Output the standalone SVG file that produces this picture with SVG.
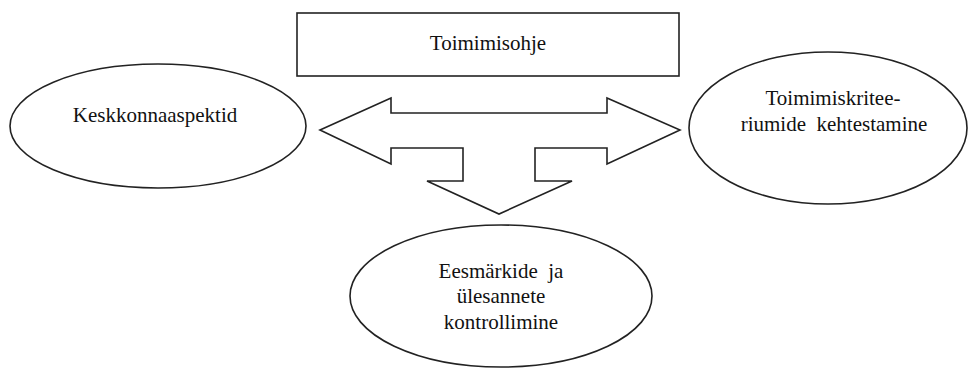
<svg xmlns="http://www.w3.org/2000/svg" width="971" height="369" viewBox="0 0 971 369">
<style>
.shape{fill:#fff;stroke:#222;stroke-width:1.6}
.lbl{font-size:21px;fill:#111;text-anchor:middle}
</style>
<rect width="971" height="369" fill="#fff"/>
<g id="connectors">
<path class="shape" d="M320,130 L391,98 L391,113 L607,113 L607,98 L680,130 L607,164 L607,148 L535,148 L535,181 L572,181 L499,214 L427,181 L463,181 L463,148 L391,148 L391,164 Z"/>
</g>
<g font-family="Liberation Serif, DejaVu Serif, serif">
<g id="toimimisohje">
<rect class="shape" x="297" y="13" width="382" height="63"/>
<text class="lbl" x="488" y="50">Toimimisohje</text>
</g>
<g id="keskkonnaaspektid">
<ellipse class="shape" cx="158" cy="126" rx="148" ry="62"/>
<text class="lbl" x="155" y="122">Keskkonnaaspektid</text>
</g>
<g id="toimimiskriteeriumid">
<ellipse class="shape" cx="828" cy="128" rx="139" ry="76"/>
<text class="lbl" x="833" y="105">Toimimiskritee-</text>
<text class="lbl" x="834" y="131" xml:space="preserve">riumide  kehtestamine</text>
</g>
<g id="eesmargid">
<ellipse class="shape" cx="501" cy="296" rx="151" ry="71"/>
<text class="lbl" x="501" y="278" xml:space="preserve">Eesmärkide  ja</text>
<text class="lbl" x="501" y="303">ülesannete</text>
<text class="lbl" x="501" y="329">kontrollimine</text>
</g>
</g>
</svg>
